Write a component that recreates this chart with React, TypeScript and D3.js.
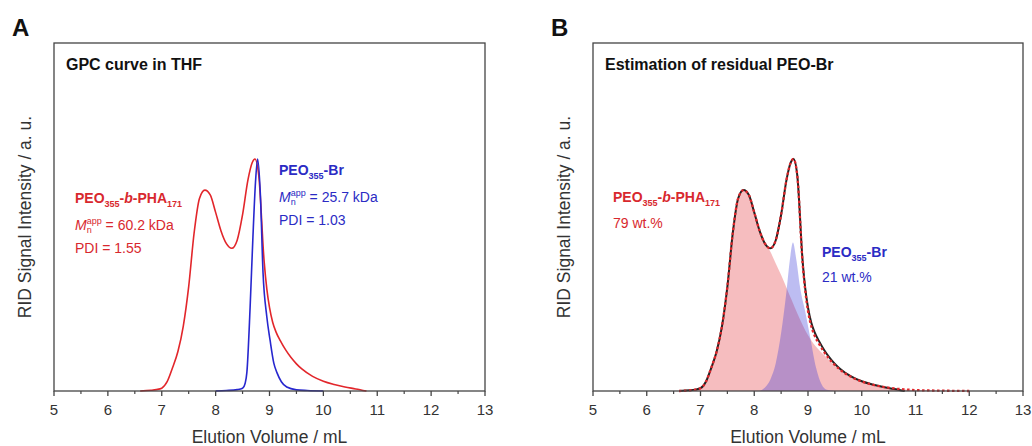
import React from "react";
import * as d3 from "d3";

// elution volume (mL), normalised RID intensity
const phaTrace: [number, number][] = [
  [6.6, 0], [6.8, 0.003], [6.9, 0.006], [7.0, 0.012], [7.1, 0.04], [7.2, 0.1],
  [7.3, 0.17], [7.4, 0.28], [7.5, 0.45], [7.6, 0.68], [7.7, 0.83], [7.8, 0.866],
  [7.9, 0.845], [8.0, 0.77], [8.1, 0.69], [8.2, 0.635], [8.3, 0.615], [8.4, 0.65],
  [8.5, 0.76], [8.6, 0.91], [8.68, 0.985], [8.73, 1.0], [8.8, 0.93], [8.9, 0.56],
  [8.95, 0.44], [9.0, 0.36], [9.06, 0.295], [9.12, 0.255], [9.2, 0.217], [9.3, 0.177],
  [9.4, 0.144], [9.5, 0.117], [9.6, 0.095], [9.8, 0.063], [10.0, 0.042],
  [10.2, 0.028], [10.4, 0.017], [10.6, 0.009], [10.8, 0],
];

const peoTrace: [number, number][] = [
  [8.0, 0], [8.2, 0.002], [8.4, 0.006], [8.5, 0.012], [8.55, 0.035], [8.58, 0.08],
  [8.64, 0.36], [8.69, 0.65], [8.74, 0.9], [8.78, 1.0], [8.83, 0.85], [8.88, 0.51],
  [8.95, 0.32], [9.01, 0.22], [9.08, 0.12], [9.14, 0.078], [9.22, 0.04], [9.32, 0.017],
  [9.5, 0.005], [9.7, 0.002], [10.0, 0],
];

const fitSum: [number, number][] = [
  [6.6, 0], [6.8, 0.003], [6.9, 0.006], [7.0, 0.012], [7.1, 0.04], [7.2, 0.1],
  [7.3, 0.17], [7.4, 0.28], [7.5, 0.45], [7.6, 0.68], [7.7, 0.83], [7.8, 0.866],
  [7.9, 0.845], [8.0, 0.77], [8.1, 0.69], [8.2, 0.635], [8.3, 0.615], [8.4, 0.65],
  [8.5, 0.76], [8.6, 0.91], [8.68, 0.985], [8.73, 1.0], [8.8, 0.93], [8.9, 0.55],
  [8.95, 0.43], [9.0, 0.345], [9.06, 0.28], [9.12, 0.24], [9.2, 0.205], [9.3, 0.168],
  [9.4, 0.137], [9.5, 0.112], [9.6, 0.091], [9.8, 0.061], [10.0, 0.041],
  [10.2, 0.027], [10.4, 0.018], [10.6, 0.011], [10.8, 0.007], [11.0, 0.004],
  [11.5, 0.0015], [12.0, 0],
];

const phaComponent: [number, number][] = [
  [6.6, 0], [6.8, 0.003], [6.9, 0.006], [7.0, 0.012], [7.1, 0.04], [7.2, 0.1],
  [7.3, 0.17], [7.4, 0.28], [7.5, 0.45], [7.6, 0.68], [7.7, 0.83], [7.8, 0.866],
  [7.9, 0.845], [8.0, 0.77], [8.1, 0.69], [8.2, 0.64], [8.3, 0.6], [8.4, 0.55],
  [8.5, 0.5], [8.6, 0.445], [8.7, 0.39], [8.8, 0.335], [8.9, 0.285], [9.0, 0.24],
  [9.1, 0.205], [9.2, 0.178], [9.3, 0.155], [9.4, 0.132], [9.5, 0.11], [9.6, 0.09],
  [9.8, 0.06], [10.0, 0.04], [10.2, 0.026], [10.4, 0.017], [10.6, 0.01],
  [10.8, 0.006], [11.0, 0.004], [11.5, 0.0015], [12.0, 0],
];

const peoComponent: [number, number][] = [
  [8.1, 0], [8.2, 0.015], [8.3, 0.05], [8.4, 0.12], [8.5, 0.25], [8.6, 0.43],
  [8.66, 0.56], [8.72, 0.64], [8.78, 0.57], [8.85, 0.45], [8.95, 0.34], [9.05, 0.22],
  [9.15, 0.1], [9.25, 0.03], [9.35, 0.005], [9.5, 0],
];

const xTicks = [5, 6, 7, 8, 9, 10, 11, 12, 13];

const RED = "#e2262b";
const BLUE = "#2727cf";
const RED_TXT = "#d8282e";
const BLUE_TXT = "#2b2bc4";
const FONT = "'Liberation Sans', Arial, sans-serif";

const top = 43;
const bottom = 391;

function Panel({ x0, x1, children, letter, title }: any) {
  const x = d3.scaleLinear().domain([5, 13]).range([x0, x1]);
  const y = d3.scaleLinear().domain([0, 1.5]).range([bottom, top]);
  const minor = d3.range(5.5, 13, 1);
  return (
    <g>
      <text x={x0 - 42} y={36} fontFamily={FONT} fontWeight="bold" fontSize={24} fill="#111">
        {letter}
      </text>
      {children(x, y)}
      <rect x={x0} y={top} width={x1 - x0} height={bottom - top} fill="none" stroke="#444" strokeWidth={1.3} />
      {xTicks.map((t) => (
        <g key={t}>
          <line x1={x(t)} x2={x(t)} y1={bottom} y2={bottom + 5} stroke="#444" strokeWidth={1.3} />
          <text x={x(t)} y={415} textAnchor="middle" fontFamily={FONT} fontSize={15} fill="#333">
            {t}
          </text>
        </g>
      ))}
      {minor.map((t) => (
        <line key={t} x1={x(t)} x2={x(t)} y1={bottom} y2={bottom + 3} stroke="#444" strokeWidth={1.2} />
      ))}
      <text x={(x0 + x1) / 2} y={443} textAnchor="middle" fontFamily={FONT} fontSize={17.5} fill="#333">
        Elution Volume / mL
      </text>
      <text
        transform={`translate(${x0 - 23},${(top + bottom) / 2}) rotate(-90)`}
        textAnchor="middle"
        fontFamily={FONT}
        fontSize={17.5}
        fill="#333"
      >
        RID Signal Intensity / a. u.
      </text>
      <text x={x0 + 12} y={70} fontFamily={FONT} fontWeight="bold" fontSize={16} fill="#111">
        {title}
      </text>
    </g>
  );
}

function Mn({ x, y, value, color }: any) {
  return (
    <text x={x} y={y} fontFamily={FONT} fontSize={14} fill={color}>
      <tspan fontStyle="italic">M</tspan>
      <tspan fontSize={9} dy={3}>n</tspan>
      <tspan fontSize={9} dx={-5} dy={-9}>app</tspan>
      <tspan dy={6}>{` = ${value} kDa`}</tspan>
    </text>
  );
}

export default function App() {
  const line = (x: any, y: any) =>
    d3.line<[number, number]>().x((d) => x(d[0])).y((d) => y(d[1])).curve(d3.curveMonotoneX);
  const area = (x: any, y: any) =>
    d3.area<[number, number]>().x((d) => x(d[0])).y0(y(0)).y1((d) => y(d[1])).curve(d3.curveMonotoneX);

  return (
    <svg width={1032} height={446} style={{ position: "absolute", left: 0, top: 0, background: "#fff" }}>
      <Panel x0={54} x1={485} letter="A" title="GPC curve in THF">
        {(x: any, y: any) => (
          <g>
            <path d={line(x, y)(phaTrace) || ""} fill="none" stroke={RED} strokeWidth={1.6} />
            <path d={line(x, y)(peoTrace) || ""} fill="none" stroke={BLUE} strokeWidth={1.6} />
            <text x={75} y={203} fontFamily={FONT} fontSize={14} fontWeight="bold" fill={RED_TXT}>
              PEO<tspan fontSize={9} dy={3.5}>355</tspan>
              <tspan dy={-3.5}>-</tspan>
              <tspan fontStyle="italic">b</tspan>-PHA<tspan fontSize={9} dy={3.5}>171</tspan>
            </text>
            <Mn x={75} y={230} value="60.2" color={RED_TXT} />
            <text x={75} y={253} fontFamily={FONT} fontSize={14} fill={RED_TXT}>PDI = 1.55</text>
            <text x={279} y={175} fontFamily={FONT} fontSize={14} fontWeight="bold" fill={BLUE_TXT}>
              PEO<tspan fontSize={9} dy={3.5}>355</tspan>
              <tspan dy={-3.5}>-Br</tspan>
            </text>
            <Mn x={279} y={202} value="25.7" color={BLUE_TXT} />
            <text x={279} y={225} fontFamily={FONT} fontSize={14} fill={BLUE_TXT}>PDI = 1.03</text>
          </g>
        )}
      </Panel>
      <Panel x0={593} x1={1023} letter="B" title="Estimation of residual PEO-Br">
        {(x: any, y: any) => (
          <g>
            <path d={area(x, y)(phaComponent) || ""} fill={RED} fillOpacity={0.3} />
            <path d={area(x, y)(peoComponent) || ""} fill="#3838d8" fillOpacity={0.33} />
            <path d={line(x, y)(phaTrace) || ""} fill="none" stroke="#222" strokeWidth={2} />
            <path
              d={line(x, y)(fitSum) || ""}
              fill="none"
              stroke={RED}
              strokeWidth={2.3}
              strokeDasharray="2.5,2.5"
            />
            <text x={613} y={202} fontFamily={FONT} fontSize={14} fontWeight="bold" fill={RED_TXT}>
              PEO<tspan fontSize={9} dy={3.5}>355</tspan>
              <tspan dy={-3.5}>-</tspan>
              <tspan fontStyle="italic">b</tspan>-PHA<tspan fontSize={9} dy={3.5}>171</tspan>
            </text>
            <text x={613} y={228} fontFamily={FONT} fontSize={14} fill={RED_TXT}>79 wt.%</text>
            <text x={822} y={257} fontFamily={FONT} fontSize={14} fontWeight="bold" fill={BLUE_TXT}>
              PEO<tspan fontSize={9} dy={3.5}>355</tspan>
              <tspan dy={-3.5}>-Br</tspan>
            </text>
            <text x={822} y={282} fontFamily={FONT} fontSize={14} fill={BLUE_TXT}>21 wt.%</text>
          </g>
        )}
      </Panel>
    </svg>
  );
}
